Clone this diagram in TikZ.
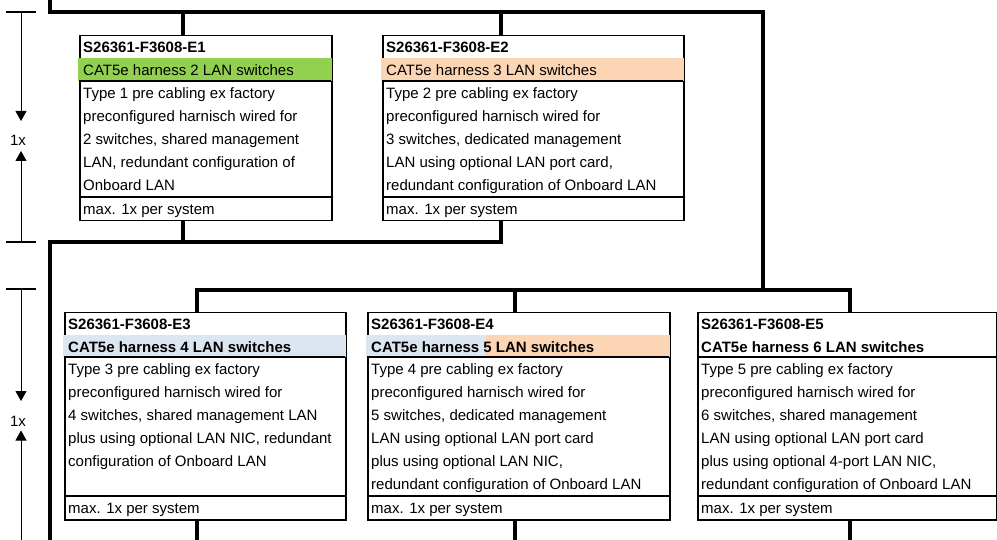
\documentclass[tikz,border=0pt]{standalone}
\usepackage{fontspec}
\setmainfont{Liberation Sans}
\usepackage{tikz}
\usetikzlibrary{arrows.meta}
\definecolor{lgreen}{HTML}{92D050}
\definecolor{peach}{HTML}{FCD5B4}
\definecolor{lblue}{HTML}{DCE6F1}

\begin{document}
\begin{tikzpicture}[x=1pt,y=-1pt,
    bus/.style={line width=4pt},
    box/.style={draw,line width=1.5pt,anchor=north west,inner sep=0pt},
    row/.style={line width=1.5pt},
    cell/.style={anchor=north west,inner xsep=4pt,inner ysep=1.5pt,align=left,
      font=\fontsize{15}{23}\selectfont,execute at begin node=\strut},
    tick/.style={line width=1.2pt},
    dim/.style={line width=0.9pt,-{Triangle[width=11pt,length=10pt]}},
    count/.style={anchor=base,font=\fontsize{15}{18}\selectfont}]
    \useasboundingbox (0,0) rectangle (997,540);

    % Upper harnesses
    \node[box,minimum width=252pt,minimum height=185pt] (e1) at (79,35) {};
    \fill[lgreen] (78.2,58) rectangle (331.8,81);
    \draw[row] (79,81) -- (331,81) (79,197) -- (331,197);
    \node[cell] (e1id) at (e1.north west) {\textbf{S26361-F3608-E1}};
    \node[cell] (e1name) at (79,58) {CAT5e harness 2 LAN switches};
    \node[cell] (e1text) at (79,81) {\strut Type 1 pre cabling ex factory\\preconfigured harnisch wired for\\2 switches, shared management\\LAN, redundant configuration of\\Onboard LAN};
    \node[cell] (e1max) at (79,197) {max. 1x per system};

    \node[box,minimum width=301pt,minimum height=185pt] (e2) at (382,35) {};
    \fill[peach] (381.2,58) rectangle (683.8,81);
    \draw[row] (382,81) -- (683,81) (382,197) -- (683,197);
    \node[cell] (e2id) at (e2.north west) {\textbf{S26361-F3608-E2}};
    \node[cell] (e2name) at (382,58) {CAT5e harness 3 LAN switches};
    \node[cell] (e2text) at (382,81) {\strut Type 2 pre cabling ex factory\\preconfigured harnisch wired for\\3 switches, dedicated management\\LAN using optional LAN port card,\\redundant configuration of Onboard LAN};
    \node[cell] (e2max) at (382,197) {max. 1x per system};

    % Lower harnesses
    \node[box,minimum width=281pt,minimum height=207pt] (e3) at (64,312) {};
    \fill[lblue] (63.2,335) rectangle (345.8,357);
    \draw[row] (64,357) -- (345,357) (64,496) -- (345,496);
    \node[cell] (e3id) at (e3.north west) {\textbf{S26361-F3608-E3}};
    \node[cell] (e3name) at (64,335) {\textbf{CAT5e harness 4 LAN switches}};
    \node[cell] (e3text) at (64,357) {\strut Type 3 pre cabling ex factory\\preconfigured harnisch wired for\\4 switches, shared management LAN\\plus using optional LAN NIC, redundant\\configuration of Onboard LAN};
    \node[cell] (e3max) at (64,496) {max. 1x per system};

    \node[box,minimum width=302pt,minimum height=207pt] (e4) at (367,312) {};
    \fill[lblue] (366.2,335) rectangle (486,357);
    \fill[peach] (486,335) rectangle (669.8,357);
    \draw[row] (367,357) -- (669,357) (367,496) -- (669,496);
    \node[cell] (e4id) at (e4.north west) {\textbf{S26361-F3608-E4}};
    \node[cell] (e4name) at (367,335) {\textbf{CAT5e harness 5 LAN switches}};
    \node[cell] (e4text) at (367,357) {\strut Type 4 pre cabling ex factory\\preconfigured harnisch wired for\\5 switches, dedicated management\\LAN using optional LAN port card\\plus using optional LAN NIC,\\redundant configuration of Onboard LAN};
    \node[cell] (e4max) at (367,496) {max. 1x per system};

    \node[box,minimum width=299pt,minimum height=207pt] (e5) at (697,312) {};
    \draw[row] (697,357) -- (996,357) (697,496) -- (996,496);
    \node[cell] (e5id) at (e5.north west) {\textbf{S26361-F3608-E5}};
    \node[cell] (e5name) at (697,335) {\textbf{CAT5e harness 6 LAN switches}};
    \node[cell] (e5text) at (697,357) {\strut Type 5 pre cabling ex factory\\preconfigured harnisch wired for\\6 switches, shared management\\LAN using optional LAN port card\\plus using optional 4-port LAN NIC,\\redundant configuration of Onboard LAN};
    \node[cell] (e5max) at (697,496) {max. 1x per system};

    % Cable runs
    \coordinate (feed) at (50,0);
    \coordinate (ubus) at (50,12);
    \coordinate (ubusend) at (763,12);
    \coordinate (ljoin) at (763,290);
    \coordinate (u1) at (183,12);
    \coordinate (u2) at (501,12);
    \draw[bus] (feed) -- (ubus) -- (ubusend) -- (ljoin);
    \draw[bus] (u1) -- (u1 |- e1.north);
    \draw[bus] (u2) -- (u2 |- e2.north);

    \coordinate (r1) at (183,242);
    \coordinate (r2) at (501,242);
    \coordinate (rturn) at (50,242);
    \coordinate (rdown) at (50,540);
    \draw[bus] (e1.south -| r1) -- (r1);
    \draw[bus] (e2.south -| r2) -- (r2) -- (rturn) -- (rdown);

    \coordinate (l3) at (197,290);
    \coordinate (l4) at (515,290);
    \coordinate (l5) at (850,290);
    \draw[bus] (e3.north -| l3) -- (l3) -- (l5) -- (e5.north -| l5);
    \draw[bus] (l4) -- (e4.north -| l4);

    \coordinate (o3) at (197,540);
    \coordinate (o4) at (515,540);
    \coordinate (o5) at (850,540);
    \draw[bus] (e3.south -| o3) -- (o3);
    \draw[bus] (e4.south -| o4) -- (o4);
    \draw[bus] (e5.south -| o5) -- (o5);

    % Quantity marks
    \draw[tick] (6,12) -- (36,12) (6,242) -- (36,242) (6,289) -- (36,289);
    \coordinate (q1top) at (21,12);
    \coordinate (q1tip) at (21,121);
    \coordinate (q1bot) at (21,242);
    \coordinate (q1tip2) at (21,151);
    \draw[dim] (q1top) -- (q1tip);
    \draw[dim] (q1bot) -- (q1tip2);
    \node[count] (q1) at (18,146) {1x};

    \coordinate (q2top) at (21,289);
    \coordinate (q2tip) at (21,401);
    \coordinate (q2bot) at (21,540);
    \coordinate (q2tip2) at (21,430.5);
    \draw[dim] (q2top) -- (q2tip);
    \draw[dim] (q2bot) -- (q2tip2);
    \node[count] (q2) at (18,426) {1x};
\end{tikzpicture}
\end{document}
